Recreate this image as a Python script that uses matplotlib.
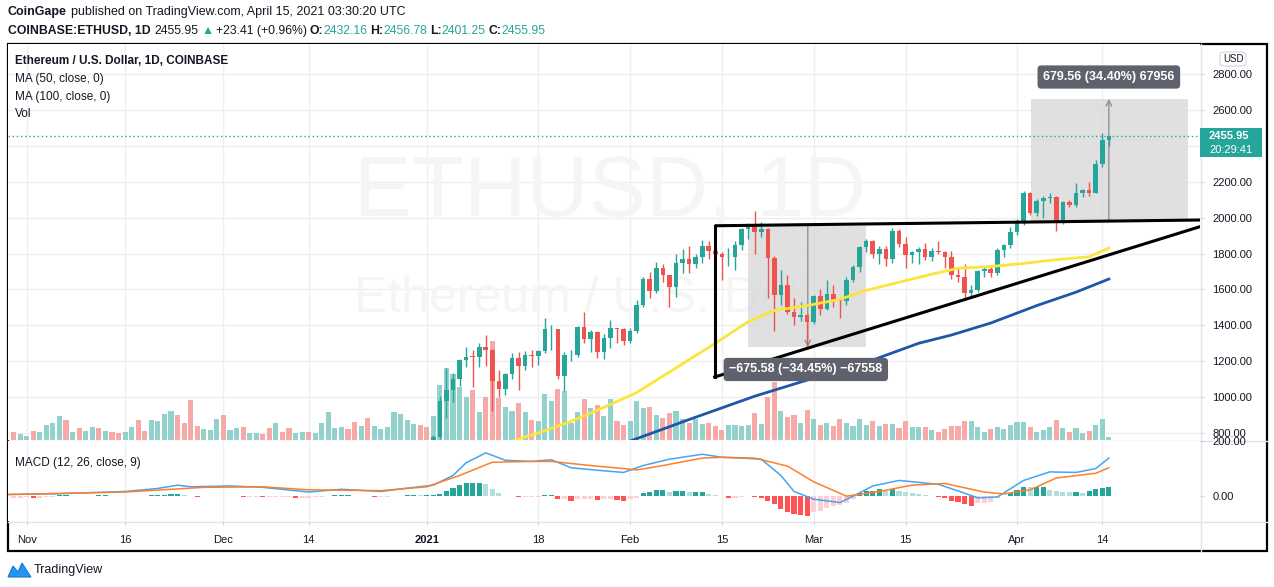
import matplotlib
matplotlib.use('Agg')
import matplotlib.pyplot as plt
import matplotlib.patches as mpatches
from matplotlib.transforms import blended_transform_factory
import numpy as np
import pandas as pd

plt.rcParams['font.family'] = ['Liberation Sans', 'DejaVu Sans']

W, H = 1274, 587
START = pd.Timestamp('2020-11-01')

# ---- daily candles, 2021-01-01 .. 2021-04-15 (COINBASE ETHUSD) ----
opens = [737, 730, 775, 979, 1042, 1100, 1208, 1225, 1224, 1281, 1262, 1090, 1043, 1130, 1218, 1171,
         1233, 1230, 1255, 1378, 1380, 1120, 1233, 1235, 1392, 1323, 1362, 1250, 1332, 1383, 1379,
         1314, 1369, 1514, 1660, 1593, 1719, 1678, 1614, 1750, 1769, 1744, 1783, 1843, 1814, 1800,
         1779, 1781, 1849, 1939, 1960, 1919, 1935, 1777, 1571, 1625, 1475, 1446, 1459,
         1417, 1564, 1492, 1575, 1541, 1533, 1655, 1723, 1835, 1868, 1795, 1826, 1767, 1924, 1854,
         1793, 1806, 1824, 1783, 1813, 1806, 1783, 1680, 1670, 1583, 1595, 1702, 1716, 1691, 1818, 1845,
         1919, 1977, 2140, 2026, 2093, 2108, 2117, 1970, 2086, 2070, 2136, 2157, 2139, 2299, 2432.16]
highs = [749, 787, 1006, 1160, 1136, 1211, 1282, 1262, 1300, 1348, 1266, 1150, 1135, 1245, 1250, 1255,
         1265, 1260, 1440, 1400, 1382, 1250, 1262, 1395, 1475, 1375, 1370, 1350, 1432, 1385, 1385,
         1385, 1540, 1670, 1695, 1755, 1740, 1680, 1795, 1825, 1840, 1800, 1875, 1870, 1830, 1810,
         1830, 1870, 1945, 1970, 2040, 1975, 1940, 1785, 1710, 1680, 1555, 1530, 1465,
         1570, 1600, 1650, 1625, 1550, 1670, 1735, 1840, 1880, 1875, 1840, 1840, 1945, 1935, 1890,
         1815, 1835, 1860, 1830, 1870, 1815, 1815, 1725, 1740, 1625, 1710, 1730, 1735, 1830, 1855, 1950,
         1995, 2150, 2145, 2105, 2120, 2140, 2120, 2095, 2100, 2195, 2160, 2200, 2320, 2470, 2456.78]
lows = [714, 715, 768, 886, 975, 1064, 1168, 1055, 1170, 1175, 920, 1000, 1010, 1100, 1040, 1150,
        1170, 1180, 1245, 1260, 1100, 1035, 1200, 1222, 1300, 1250, 1220, 1215, 1275, 1300, 1290,
        1300, 1360, 1505, 1550, 1580, 1640, 1500, 1560, 1690, 1690, 1720, 1750, 1770, 1780, 1650,
        1730, 1710, 1820, 1880, 1800, 1890, 1555, 1370, 1515, 1465, 1400, 1425, 1285,
        1410, 1460, 1485, 1505, 1440, 1515, 1640, 1700, 1810, 1775, 1740, 1730, 1745, 1835, 1720,
        1750, 1740, 1765, 1760, 1800, 1720, 1660, 1640, 1545, 1560, 1585, 1670, 1670, 1680, 1780, 1830,
        1905, 1960, 2015, 2010, 2000, 2080, 1925, 1965, 2060, 2060, 2115, 2120, 2135, 2285, 2401.25]
closes = [730, 775, 979, 1042, 1100, 1208, 1225, 1224, 1281, 1262, 1090, 1043, 1130, 1218, 1171, 1233,
          1230, 1255, 1378, 1380, 1120, 1233, 1235, 1392, 1323, 1362, 1250, 1332, 1383, 1379, 1314,
          1369, 1514, 1660, 1593, 1719, 1678, 1614, 1750, 1769, 1744, 1783, 1843, 1814, 1800, 1779,
          1781, 1849, 1939, 1960, 1919, 1935, 1777, 1571, 1625, 1475, 1446, 1459, 1417,
          1564, 1492, 1575, 1541, 1533, 1655, 1723, 1835, 1868, 1795, 1826, 1767, 1924, 1854, 1793,
          1806, 1824, 1783, 1813, 1806, 1783, 1680, 1670, 1583, 1595, 1702, 1716, 1691, 1818, 1845, 1919,
          1977, 2140, 2026, 2093, 2108, 2117, 1970, 2086, 2070, 2136, 2157, 2139, 2299, 2432, 2455.95]

# ---- volume (relative units), 2020-10-30 .. 2020-12-31, candles below the visible range ----
vol_early = [8, 6, 4, 9, 8, 15, 17, 24, 20, 8, 12, 9, 13, 12, 9, 8, 7, 8, 13, 20,
             9, 20, 19, 26, 29, 25, 17, 40, 14, 11, 10, 21, 25, 10, 12, 13, 7, 7, 6, 12,
             17, 8, 12, 7, 8, 8, 7, 17, 28, 12, 13, 11, 18, 14, 22, 14, 11, 13, 28, 26,
             20, 16, 15]
vol_early_up = [0, 1, 1, 0, 1, 1, 1, 1, 0, 1, 0, 1, 1, 0, 1, 0, 0, 1, 1, 0,
                0, 1, 1, 1, 1, 0, 0, 0, 0, 1, 1, 1, 0, 1, 1, 0, 1, 1, 0, 0,
                1, 0, 0, 1, 1, 0, 1, 1, 1, 1, 1, 0, 0, 1, 0, 1, 1, 1, 1, 1,
                1, 1, 0]
# 2021-01-01 .. 2021-04-15
vol = [13, 24, 55, 72, 66, 53, 43, 50, 28, 43, 99, 42, 33, 29, 37, 28, 20, 19, 46, 39, 51, 49,
       17, 28, 41, 32, 35, 24, 41, 19, 15,
       19, 39, 32, 33, 25, 22, 27, 29, 21, 17, 21, 16, 17, 14, 10, 15, 15, 14, 15, 27, 16, 43,
       58, 29, 23, 25, 17, 30,
       21, 15, 17, 14, 21, 17, 14, 21, 15, 19, 14, 16, 16, 12, 19, 13, 13, 13, 10, 8, 11, 14,
       14, 19, 19, 13, 8, 11, 13, 11, 15,
       18, 18, 13, 8, 10, 13, 20, 12, 8, 12, 7, 9, 15, 21, 3]

# ---- moving averages (day index from 2020-11-01, price) ----
ma50_days = [74, 78, 83, 88, 93, 98, 105, 110, 114, 119, 124, 128, 133, 138, 142, 147, 152, 157, 162, 165]
ma50_vals = [755, 800, 865, 943, 1025, 1140, 1300, 1420, 1483, 1510, 1545, 1595, 1640, 1685, 1718,
             1728, 1745, 1766, 1782, 1831]
ma100_days = [92, 101, 111, 119, 124, 130, 136, 141, 147, 154, 160, 165]
ma100_vals = [755, 875, 1005, 1095, 1136, 1220, 1300, 1346, 1413, 1510, 1585, 1658]

# ---- MACD (12, 26, close, 9) ----
macd_days = [-3, 5, 15, 20, 23, 25, 31, 36, 43, 48, 54, 58, 62, 65, 67, 70, 73, 77, 80, 83, 87, 91,
             94, 98, 103, 106, 109, 112, 115, 117, 120, 124, 126, 129, 133, 139, 143, 145, 148, 152,
             156, 160, 163, 165]
macd_vals = [6, 9, 17, 28, 40, 34, 37, 32, 15, 25, 17, 29, 40, 75, 121, 157, 130, 126, 132, 103, 94, 86,
             111, 134, 152, 141, 138, 134, 75, 17, -11, -23, 0, 37, 57, 43, 11, -6, -3, 57,
             88, 86, 100, 138]
signal_days = [-3, 15, 27, 36, 43, 54, 61, 66, 71, 77, 80, 86, 91, 93, 97, 103, 106, 111, 116, 120,
               125, 130, 135, 140, 146, 149, 153, 157, 163, 165]
signal_vals = [6, 15, 32, 34, 23, 20, 34, 75, 123, 126, 126, 111, 100, 95, 111, 138, 141, 138, 109, 52,
               0, 17, 40, 46, 15, 8, 23, 66, 83, 103]
hist = [-6, -6, -4, -6, -5, -3, -2, 3, 3, 2, 2, 2, 2, 3, 3, 1, 1, 1, 1, 0,
        0, 3, 4, 6, 8, 8, 5, 2, -2, 0, 2, 2, 0, 0, 2, -2, -2, -2, -3, -3,
        -3, -3, -2, -5, -5, -5, -3, -2, 0, 3, 3, 3, 0, 0, -1, -2, -2, -2, -1, 1,
        3, 6, 3, 3, 3, 9, 18, 28, 40, 48, 48, 48, 43, 25, 11, 2, 2, -2, -2, -2,
        -2, 3, 3, -9, -9, -17, -9, -9, -9, -14, -9, -9, -14,
        -17, -11, -6, 11, 15, 21, 21, 14, 17, 17, 14, 14, 14, 9, 6, 2, -8, -8, -2, 2,
        -3, -6, -17, -29, -46, -57, -66, -69, -72, -57, -52, -44, -37, -31, -23, -11, 11, 20, 20, 25,
        20, 25, 17, 14, 11, 8, 6, 2, -3, -8, -17, -21, -29, -34, -26, -23, -21, -6, 0, 11,
        21, 34, 32, 34, 34, 23, 20, 15, 14, 14, 11, 17, 25, 29, 34]

# ---- drawings on the chart ----
tri_days = [104.9, 178.9, 104.9, 104.9, 104.9, 178.9]   # top edge, left side, rising base
tri_prices = [1955, 1987, 1955, 1112, 1112, 1950]
down_range = dict(d0=110.0, d1=127.95, top=1955, bottom=1279, arrow=119.1,
                  text='\u2212675.58 (\u221234.45%) \u221267558', label_at=(118.8, 1154))
up_range = dict(d0=153.1, d1=177.0, top=2661, bottom=1981, arrow=165.0,
                text='679.56 (34.40%) 67956', label_at=(165.0, 2784))
last_price = 2455.95

time_ticks = [0, 15, 30, 43, 61, 78, 92, 106, 120, 134, 151, 164]
time_labels = ['Nov', '16', 'Dec', '14', '2021', '18', 'Feb', '15', 'Mar', '15', 'Apr', '14']
price_ticks = [800, 1000, 1200, 1400, 1600, 1800, 2000, 2200, 2400, 2600, 2800]

UP, DOWN = '#26a69a', '#ef5350'
TXT = '#131722'
GRID = '#eeeff2'


def day(s):
    return (pd.Timestamp(s) - START).days


def rect(x0, y0, x1, y1):
    return [x0 / W, 1 - y1 / H, (x1 - x0) / W, (y1 - y0) / H]


cd = np.arange(day('2021-01-01'), day('2021-04-15') + 1)
o, h, l, c = map(np.array, (opens, highs, lows, closes))
up = c >= o

fig = plt.figure(figsize=(W / 100, H / 100), dpi=100)
fig.patch.set_facecolor('white')

# bottom layer: grid + watermark + volume, top layer: prices
vax = fig.add_axes(rect(8, 44, 1200, 440), zorder=1)
ax = fig.add_axes(rect(8, 44, 1200, 440), zorder=2, sharex=vax)
mx = fig.add_axes(rect(8, 441, 1200, 521), zorder=2, sharex=vax)
ax.patch.set_visible(False)

XMIN, XMAX = -2.85, 178.9
vax.set_xlim(XMIN, XMAX)
ax.set_ylim(761, 2968)
mx.set_ylim(-90, 186)

for a in (vax, ax, mx):
    for s in a.spines.values():
        s.set_visible(False)

# grid lines
tr = blended_transform_factory(vax.transAxes, ax.transData)
for p in price_ticks:
    vax.plot([0, 1], [p, p], transform=tr, color=GRID, lw=1, zorder=0)
for t in time_ticks:
    vax.axvline(t, color=GRID, lw=1, zorder=0)
    mx.axvline(t, color=GRID, lw=1, zorder=0)

# watermark
vax.text(0.505, 0.62, 'ETHUSD, 1D', transform=vax.transAxes, ha='center', va='center',
         fontsize=62, color='#f5f5f5', zorder=0.5)
vax.text(0.5, 0.355, 'Ethereum / U.S. Dollar', transform=vax.transAxes, ha='center', va='center',
         fontsize=36, color='#f5f5f5', zorder=0.5)

# volume
vdays = np.concatenate([np.arange(-2, -2 + len(vol_early)), cd])
vvals = np.array(vol_early + vol)
vup = np.concatenate([np.array(vol_early_up, bool), up])
vax.bar(vdays, vvals, width=0.78, color=np.where(vup, '#93d2cc', '#f7a9a7'), zorder=2)
vax.set_ylim(0, vvals.max() * 4)
vax.set_yticks([])
vax.tick_params(axis='x', length=0, labelbottom=False)

# range tool boxes
for r in (down_range, up_range):
    ax.add_patch(mpatches.Rectangle((r['d0'], r['bottom']), r['d1'] - r['d0'], r['top'] - r['bottom'],
                                    facecolor='#d9d9d9', edgecolor='none', alpha=0.8, zorder=1))

# candles
ax.vlines(cd, l, h, colors=np.where(up, UP, DOWN), lw=1, zorder=3)
body = np.maximum(np.abs(c - o), 3)
ax.bar(cd, body, bottom=np.minimum(o, c), width=0.7, color=np.where(up, UP, DOWN), zorder=3)

# moving averages
ax.plot(ma50_days, ma50_vals, color='#fbe53b', lw=2, zorder=4)
ax.plot(ma100_days, ma100_vals, color='#1f56a8', lw=2, zorder=4)

# last price line
ax.axhline(last_price, color=UP, lw=1, ls=(0, (1, 2)), zorder=4)

# triangle
ax.plot(tri_days[0:2], tri_prices[0:2], color='black', lw=2.2, zorder=5, solid_capstyle='butt')
ax.plot(tri_days[2:4], tri_prices[2:4], color='black', lw=2.2, zorder=5)
ax.plot(tri_days[4:6], tri_prices[4:6], color='black', lw=2.2, zorder=5)

# range arrows + labels
ax.annotate('', xy=(down_range['arrow'], down_range['bottom']),
            xytext=(down_range['arrow'], down_range['top']),
            arrowprops=dict(arrowstyle='->', color='#8a8a8a', lw=0.9, shrinkA=0, shrinkB=0), zorder=2)
ax.annotate('', xy=(up_range['arrow'], up_range['top']),
            xytext=(up_range['arrow'], up_range['bottom']),
            arrowprops=dict(arrowstyle='->', color='#8a8a8a', lw=0.9, shrinkA=0, shrinkB=0), zorder=2)
for r in (down_range, up_range):
    ax.text(r['label_at'][0], r['label_at'][1], r['text'], ha='center', va='center', color='white',
            fontsize=9, fontweight='bold', zorder=6,
            bbox=dict(boxstyle='round,pad=0.45,rounding_size=0.3', facecolor='#5f626d', edgecolor='none'))

# price axis (the 2400 label sits under the last-price tag)
ax.yaxis.tick_right()
ax.set_yticks(price_ticks)
ax.set_yticklabels(['' if p == 2400 else f'{p:.2f}' for p in price_ticks])
ax.tick_params(axis='y', length=3, width=0.8, color='#d1d4dc', pad=6, labelsize=8, labelcolor=TXT)
ax.tick_params(axis='x', length=0, labelbottom=False)

# MACD pane
hc = []
for i, v in enumerate(hist):
    prev = hist[i - 1] if i > 0 else v
    if v >= 0:
        hc.append('#26a69a' if v >= prev else '#b2dfdb')
    else:
        hc.append('#ff5252' if v < prev else '#ffcdd2')
mx.bar(np.arange(-2, -2 + len(hist)), hist, width=0.78, color=hc, zorder=2)
mx.plot(macd_days, macd_vals, color='#42a5f5', lw=1.1, zorder=3)
mx.plot(signal_days, signal_vals, color='#ff7f27', lw=1.1, zorder=3)
mx.yaxis.tick_right()
mx.set_yticks([0, 200])
mx.set_yticklabels(['0.00', '200.00'])
mx.tick_params(axis='y', length=3, width=0.8, color='#d1d4dc', pad=6, labelsize=8, labelcolor=TXT)
mx.set_xticks(time_ticks)
mx.set_xticklabels(time_labels)
mx.tick_params(axis='x', length=3, width=0.8, color='#d1d4dc', pad=7, labelsize=8, labelcolor=TXT)
for lab in mx.get_xticklabels():
    if lab.get_text() == '2021':
        lab.set_fontweight('bold')
mx.set_xlim(XMIN, XMAX)

# frame & separators
def fline(xs, ys, **kw):
    fig.add_artist(plt.Line2D([x / W for x in xs], [1 - y / H for y in ys], **kw))

fline([8, 1267], [440.5, 440.5], color='#e0e3eb', lw=1)
fline([8, 1267], [521.5, 521.5], color='#e0e3eb', lw=1)
fline([1200.5, 1200.5], [44, 551], color='#e0e3eb', lw=1)
fig.add_artist(mpatches.Rectangle((8 / W, 1 - 551 / H), 1259 / W, 507 / H, transform=fig.transFigure,
                                  fill=False, edgecolor='black', lw=1.6))

# last price tag
fig.add_artist(mpatches.Rectangle((1200 / W, 1 - 157 / H), 62 / W, 29 / H, transform=fig.transFigure,
                                  facecolor=UP, edgecolor='none', zorder=5))
fig.text(1209 / W, 1 - 136 / H, '2455.95', color='white', fontsize=8, fontweight='bold', va='center',
         zorder=6)
fig.text(1209 / W, 1 - 150 / H, '20:29:41', color='white', fontsize=8, va='center', zorder=6)

# USD badge
fig.add_artist(mpatches.FancyBboxPatch((1220 / W, 1 - 66 / H), 26 / W, 14 / H, transform=fig.transFigure,
                                       boxstyle='round,pad=0,rounding_size=0.004', facecolor='white',
                                       edgecolor='#d1d4dc', lw=0.8))
fig.text(1233 / W, 1 - 59 / H, 'USD', color=TXT, fontsize=7, ha='center', va='center')

# header and legends
renderer = fig.canvas.get_renderer()


def runs(x, y, parts, size):
    for text, color, weight, gap in parts:
        t = fig.text(x / W, 1 - y / H, text, color=color, fontsize=size, fontweight=weight, va='center')
        x += t.get_window_extent(renderer=renderer).width + gap


runs(8, 12, [('CoinGape', TXT, 'bold', 4),
             ('published on TradingView.com, April 15, 2021 03:30:20 UTC', TXT, 'normal', 0)], 9)
runs(8, 31, [('COINBASE:ETHUSD, 1D', TXT, 'bold', 4), ('2455.95', TXT, 'normal', 3),
             ('\u25b2', UP, 'normal', 2), ('+23.41 (+0.96%)', TXT, 'normal', 3),
             ('O:', TXT, 'bold', 0), ('2432.16', UP, 'normal', 3),
             ('H:', TXT, 'bold', 0), ('2456.78', UP, 'normal', 3),
             ('L:', TXT, 'bold', 0), ('2401.25', UP, 'normal', 3),
             ('C:', TXT, 'bold', 0), ('2455.95', UP, 'normal', 0)], 8.8)

fig.text(15 / W, 1 - 61 / H, 'Ethereum / U.S. Dollar, 1D, COINBASE', color=TXT, fontsize=8.5,
         fontweight='bold', va='center')
for yy, s in ((79, 'MA (50, close, 0)'), (97, 'MA (100, close, 0)'), (114, 'Vol')):
    fig.text(15 / W, 1 - yy / H, s, color=TXT, fontsize=8.5, va='center')
fig.text(15 / W, 1 - 463 / H, 'MACD (12, 26, close, 9)', color=TXT, fontsize=8.5, va='center')

# TradingView footer
logo_x = [8, 13, 18, 22, 27, 31]
logo_y = [577, 566, 572, 563, 571, 577]
fig.add_artist(mpatches.Polygon([(x / W, 1 - y / H) for x, y in zip(logo_x, logo_y)],
                                closed=True, transform=fig.transFigure, facecolor='#2196f3',
                                edgecolor='#1976d2', lw=0.8))
fig.text(34 / W, 1 - 570 / H, 'TradingView', color=TXT, fontsize=9, va='center')

fig.savefig('out.png', dpi=100)
